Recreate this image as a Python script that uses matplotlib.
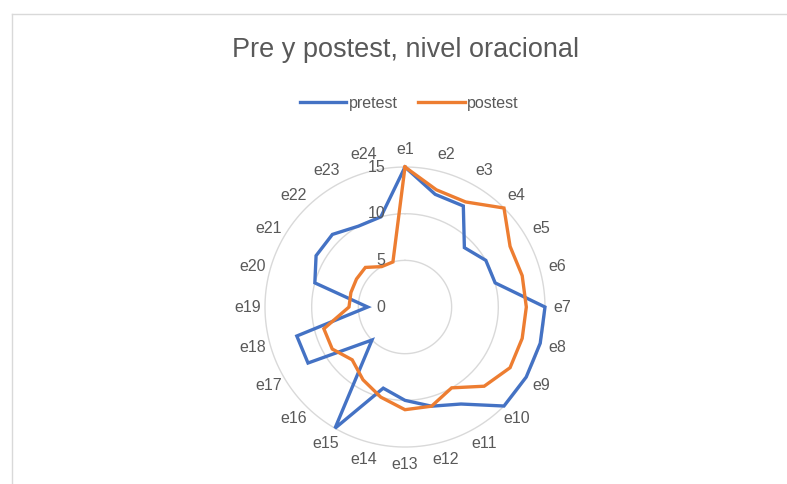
# Radar chart: pretest vs postest, sentence level (24 items)

import numpy as np
import matplotlib.pyplot as plt

# -- data --
items = ['e1', 'e2', 'e3', 'e4', 'e5', 'e6', 'e7', 'e8', 'e9', 'e10', 'e11', 'e12',
         'e13', 'e14', 'e15', 'e16', 'e17', 'e18', 'e19', 'e20', 'e21', 'e22', 'e23', 'e24']
pretest = [15, 12.5, 12.5, 9, 10, 10, 15, 15, 15, 15, 12, 11,
           10, 9, 15, 5, 12, 12, 4, 10, 11, 11, 10, 10]
postest = [15, 13, 13, 15, 13, 13, 13, 13, 13, 12, 10, 11,
           11, 10, 9, 8, 9, 9, 6, 6, 6, 6, 5, 5]
rings = [0, 5, 10, 15]

blue = '#4472C4'
orange = '#ED7D31'
txt = '#595959'
grid_col = '#d9d9d9'

plt.rcParams['font.family'] = ['Liberation Sans', 'DejaVu Sans']

fig = plt.figure(figsize=(7.87, 4.84), dpi=100)
fig.patch.set_facecolor('white')

# chart area border (only top and left visible in the crop)
fig.add_artist(plt.Line2D([12/787, 1], [1 - 14/484, 1 - 14/484], color=grid_col, lw=1))
fig.add_artist(plt.Line2D([12/787, 12/787], [0, 1 - 14/484], color=grid_col, lw=1))

ax = fig.add_axes([0.3367, 0.0764, 0.3558, 0.5785], projection='polar')
ax.set_theta_zero_location('N')
ax.set_theta_direction(-1)
ax.set_ylim(0, 15)

# angles, closed polygon
n = len(items)
theta = np.linspace(0, 2 * np.pi, n, endpoint=False)
theta_c = np.append(theta, theta[0])

# circular gridlines
circ = np.linspace(0, 2 * np.pi, 200)
for r in rings[1:]:
    ax.plot(circ, [r] * len(circ), color=grid_col, lw=1, zorder=1, clip_on=False)

ax.plot(theta_c, pretest + [pretest[0]], color=blue, lw=2.4, label='pretest',
        zorder=3, clip_on=False, solid_joinstyle='miter')
ax.plot(theta_c, postest + [postest[0]], color=orange, lw=2.4, label='postest',
        zorder=4, clip_on=False, solid_joinstyle='miter')

ax.grid(False)
ax.set_xticks([])
ax.set_yticks([])
ax.spines['polar'].set_visible(False)
ax.set_facecolor('none')

# category labels
for t, lab in zip(theta, items):
    ax.text(t, 16.9, lab, ha='center', va='center', fontsize=11.5, color=txt, clip_on=False)

# value labels along e1 axis
for r in rings:
    ax.annotate(str(r), xy=(0, r), xytext=(-14, 0), textcoords='offset points',
                ha='right', va='center', fontsize=11.5, color=txt, zorder=5)

fig.text(0.515, 0.897, 'Pre y postest, nivel oracional', ha='center', va='center',
         fontsize=19.5, color=txt)

fig.legend(loc='center', bbox_to_anchor=(0.52, 0.787), ncol=2, frameon=False,
           fontsize=11.5, handlelength=2.9, handletextpad=0.15, columnspacing=1.3,
           labelcolor=txt)

plt.savefig('out.png', dpi=100)
